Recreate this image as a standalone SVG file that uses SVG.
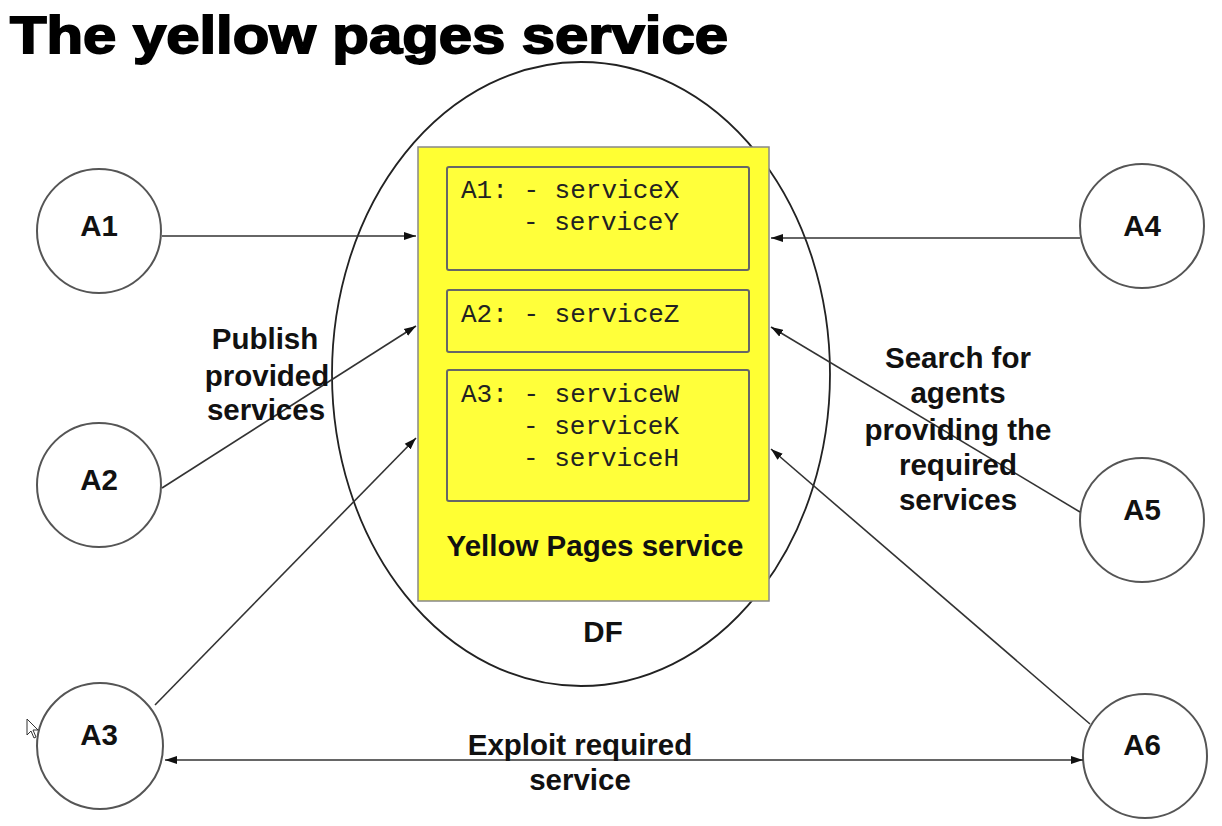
<svg xmlns="http://www.w3.org/2000/svg" width="1222" height="826" viewBox="0 0 1222 826">
<style>
.lbl{font-family:"Liberation Sans",Arial,sans-serif;font-weight:bold;font-size:29.5px;fill:#111;text-anchor:middle}
.mono{font-family:"Liberation Mono","Courier New",monospace;font-size:26px;fill:#222}
.agent{fill:#fff;stroke:#555;stroke-width:2}
.box{fill:#ffff3a;stroke:#666;stroke-width:2}
.conn{stroke:#333;stroke-width:1.6;fill:none}
</style>
<defs>
<marker id="ah" viewBox="0 0 12 10" refX="12" refY="5" markerWidth="12" markerHeight="10" markerUnits="userSpaceOnUse" orient="auto-start-reverse">
<path d="M0,1 L12,5 L0,9 z" fill="#111"/>
</marker>
</defs>
<rect width="1222" height="826" fill="#fff"/>
<text x="10" y="53" font-family="'Liberation Sans',Arial,sans-serif" font-weight="bold" font-size="52" stroke="#000" stroke-width="1.8" textLength="718" lengthAdjust="spacingAndGlyphs">The yellow pages service</text>

<g id="DF">
<ellipse cx="581" cy="374" rx="249" ry="312" fill="#fff" stroke="#222" stroke-width="1.8"/>
<rect x="418" y="147" width="351" height="454" fill="#ffff33" stroke="#888" stroke-width="1.5"/>
<rect class="box" x="447" y="167" width="302" height="103" rx="2"/>
<rect class="box" x="447" y="290" width="302" height="62" rx="2"/>
<rect class="box" x="447" y="370" width="302" height="131" rx="2"/>
<text class="mono" x="461" y="198">A1: - serviceX</text>
<text class="mono" x="523" y="230">- serviceY</text>
<text class="mono" x="461" y="322">A2: - serviceZ</text>
<text class="mono" x="461" y="402">A3: - serviceW</text>
<text class="mono" x="523" y="434">- serviceK</text>
<text class="mono" x="523" y="466">- serviceH</text>
<text class="lbl" x="595" y="556">Yellow Pages service</text>
<text class="lbl" x="603" y="642">DF</text>
</g>

<g id="A1"><circle class="agent" cx="99" cy="231" r="62"/><text class="lbl" x="99" y="236">A1</text></g>
<g id="A2"><circle class="agent" cx="99" cy="485" r="62"/><text class="lbl" x="99" y="490">A2</text></g>
<g id="A3"><circle class="agent" cx="100" cy="746" r="63"/><text class="lbl" x="99" y="745">A3</text></g>
<g id="A4"><circle class="agent" cx="1142" cy="226" r="62"/><text class="lbl" x="1142" y="236">A4</text></g>
<g id="A5"><circle class="agent" cx="1142" cy="520" r="62"/><text class="lbl" x="1142" y="520">A5</text></g>
<g id="A6"><circle class="agent" cx="1145" cy="756" r="62"/><text class="lbl" x="1142" y="755">A6</text></g>

<g id="connectors">
<line class="conn" x1="162" y1="236" x2="416" y2="236" marker-end="url(#ah)"/>
<line class="conn" x1="162" y1="488" x2="416" y2="326" marker-end="url(#ah)"/>
<line class="conn" x1="155" y1="705" x2="416" y2="438" marker-end="url(#ah)"/>
<line class="conn" x1="1080" y1="238" x2="771" y2="238" marker-end="url(#ah)"/>
<line class="conn" x1="1080" y1="512" x2="771" y2="327" marker-end="url(#ah)"/>
<line class="conn" x1="1090" y1="724" x2="771" y2="449" marker-end="url(#ah)"/>
<line class="conn" x1="165" y1="760" x2="1083" y2="760" marker-start="url(#ah)" marker-end="url(#ah)"/>
</g>

<g id="labels">
<text class="lbl" x="265" y="349">Publish</text>
<text class="lbl" x="267" y="386">provided</text>
<text class="lbl" x="266" y="420">services</text>
<text class="lbl" x="958" y="368">Search for</text>
<text class="lbl" x="958" y="403">agents</text>
<text class="lbl" x="958" y="440">providing the</text>
<text class="lbl" x="958" y="475">required</text>
<text class="lbl" x="958" y="510">services</text>
<text class="lbl" x="580" y="755">Exploit required</text>
<text class="lbl" x="580" y="790">service</text>
</g>

<path d="M27,719 L27,735 L31,731 L34,738 L36,737 L33,730 L38,730 Z" fill="#fff" stroke="#333" stroke-width="1"/>
</svg>
